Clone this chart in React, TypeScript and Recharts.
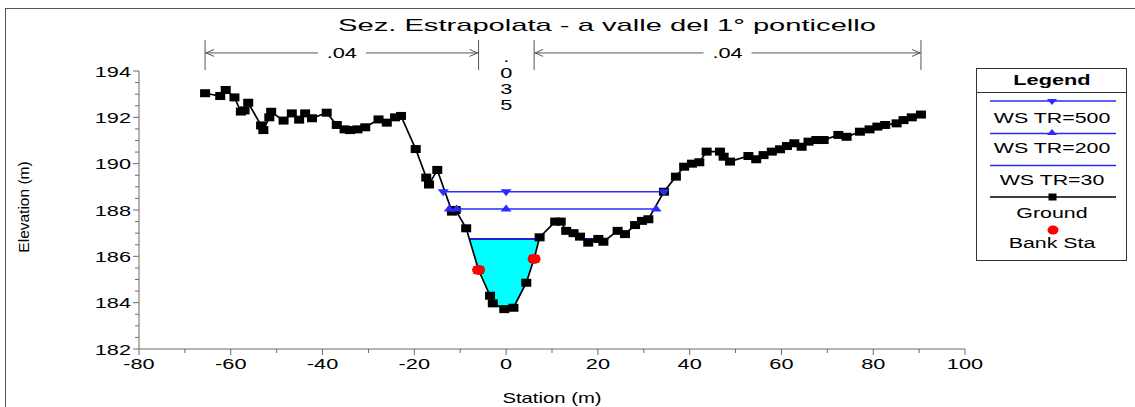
import React from 'react';
import { ComposedChart, Line, Area, XAxis, YAxis, ReferenceLine } from 'recharts';

// Cross section "Sez. Estrapolata - a valle del 1° ponticello"
const groundStation = [
  -65.6, -62.3, -61.1, -59.2, -57.8, -57.0, -56.2, -53.4, -52.9, -51.6,
  -51.2, -48.5, -46.7, -45.1, -43.8, -42.3, -39.1, -36.9, -35.2, -34.0,
  -32.4, -30.7, -27.8, -26.0, -24.2, -22.9, -19.7, -17.4, -16.8, -15.0,
  -11.8, -11.0, -8.7, -6.0, -3.5, -2.9, -0.4, 1.6, 4.4, 6.1,
  7.3, 10.7, 11.9, 13.1, 14.7, 16.1, 17.9, 20.1, 21.2, 24.3,
  25.9, 28.1, 29.6, 31.0, 34.4, 37.0, 38.8, 40.5, 42.1, 43.7,
  46.6, 47.4, 48.8, 52.8, 54.5, 56.1, 57.9, 59.7, 61.2, 62.8,
  64.4, 65.9, 67.6, 69.2, 72.4, 74.2, 77.1, 79.2, 80.9, 82.6,
  85.1, 86.6, 88.4, 90.4,
];
const groundElev = [
  193.04, 192.92, 193.18, 192.86, 192.25, 192.3, 192.63, 191.65, 191.45, 192.0,
  192.24, 191.86, 192.17, 191.9, 192.17, 191.96, 192.2, 191.67, 191.48, 191.45,
  191.48, 191.57, 191.91, 191.77, 192.0, 192.06, 190.63, 189.4, 189.1, 189.73,
  187.93, 188.0, 187.21, 185.41, 184.3, 183.97, 183.72, 183.78, 184.86, 185.89,
  186.82, 187.5, 187.5, 187.1, 187.0, 186.85, 186.59, 186.75, 186.63, 187.1,
  186.96, 187.35, 187.53, 187.6, 188.79, 189.44, 189.87, 190.0, 190.06, 190.52,
  190.52, 190.3, 190.09, 190.33, 190.19, 190.37, 190.52, 190.62, 190.76, 190.88,
  190.73, 190.95, 191.02, 191.02, 191.24, 191.16, 191.38, 191.48, 191.6, 191.67,
  191.74, 191.88, 192.0, 192.12,
];

const bankStation = [-6.0, 6.1];
const bankElev = [185.41, 185.89];

const ws500Elev = 188.79;
const ws500Station = [-13.7, 0, 34.4];
const ws200Elev = 188.04;
const ws200Station = [-12.4, -10.8, 0, 32.7];
const ws30Elev = 186.75;
const ws30Segments = [[-8.0, 7.2], [16.9, 22.3]];

// wetted part of the main channel under WS TR=30
const channelStation = [-8.0, -6.0, -3.5, -2.9, -0.4, 1.6, 4.4, 6.1, 7.2];
const channelBed = [186.75, 185.41, 184.3, 183.97, 183.72, 183.78, 184.86, 185.89, 186.75];

const manningN = ['.04', '.035', '.04'];
const manningY = 194.78;

const xMajorTicks = [-80, -60, -40, -20, 0, 20, 40, 60, 80, 100];
const xTicks = [-80, -70, -60, -50, -40, -30, -20, -10, 0, 10, 20, 30, 40, 50, 60, 70, 80, 90, 100];
const yMajorTicks = [182, 184, 186, 188, 190, 192, 194];
const yTicks = [
  182, 182.5, 183, 183.5, 184, 184.5, 185, 185.5, 186, 186.5, 187, 187.5, 188,
  188.5, 189, 189.5, 190, 190.5, 191, 191.5, 192, 192.5, 193, 193.5, 194,
];

const FONT = '"Liberation Sans", Arial, sans-serif';
const AXIS = '#6a6a6a';
const BLUE = '#2b2bff';
const SX = 1.45;

const groundData = groundStation.map((x, i) => ({ x, y: groundElev[i] }));
const bankData = bankStation.map((x, i) => ({ x, y: bankElev[i] }));
const ws500Data = ws500Station.map((x) => ({ x, y: ws500Elev }));
const ws200Data = ws200Station.map((x) => ({ x, y: ws200Elev }));
const ws30Data = ws30Segments.flatMap(([a, b]) => [
  { x: a, y: ws30Elev },
  { x: b, y: ws30Elev },
  { x: b, y: null },
]);
const channelData = channelStation.map((x, i) => ({ x, range: [channelBed[i], ws30Elev] }));

function WideText({ x, y, size, anchor = 'middle', weight = 'normal', sx = SX, children }: any) {
  return (
    <text
      transform={`translate(${x},${y}) scale(${sx},1)`}
      textAnchor={anchor}
      fontFamily={FONT}
      fontSize={size}
      fontWeight={weight}
      fill="#000"
    >
      {children}
    </text>
  );
}

const XTick = ({ x, y, payload }: any) => {
  const major = xMajorTicks.includes(payload.value);
  return (
    <g>
      <line x1={x} x2={x} y1={y} y2={y + (major ? 6 : 4)} stroke={AXIS} />
      {major && <WideText x={x} y={y + 20} size={15}>{payload.value}</WideText>}
    </g>
  );
};

const YTick = ({ x, y, payload }: any) => {
  const major = yMajorTicks.includes(payload.value);
  return (
    <g>
      <line x1={x - (major ? 6 : 4)} x2={x} y1={y} y2={y} stroke={AXIS} />
      {major && <WideText x={x - 8} y={y + 5.5} size={15} anchor="end">{payload.value}</WideText>}
    </g>
  );
};

const squareDot = (p: any) =>
  p.cy == null ? <g key={p.index} /> : (
    <rect key={p.index} x={p.cx - 5} y={p.cy - 4} width={10} height={8} fill="#000" />
  );

const bankDot = (p: any) => (
  <ellipse key={p.index} cx={p.cx} cy={p.cy} rx={6.5} ry={5} fill="#ff0000" />
);

const triDown = (p: any) => (
  <polygon
    key={p.index}
    points={`${p.cx - 5.5},${p.cy - 2.5} ${p.cx + 5.5},${p.cy - 2.5} ${p.cx},${p.cy + 4.5}`}
    fill={BLUE}
  />
);

const triUp = (p: any) => (
  <polygon
    key={p.index}
    points={`${p.cx - 5.5},${p.cy + 2.5} ${p.cx + 5.5},${p.cy + 2.5} ${p.cx},${p.cy - 4.5}`}
    fill={BLUE}
  />
);

// Manning's n bracket drawn above the plot between two stations
const bracket = (label: string) => (p: any) => {
  const { x1, x2, y1: y } = p;
  const mid = (x1 + x2) / 2;
  const gap = 24;
  return (
    <g stroke="#555" strokeWidth={1} fill="none">
      <line x1={x1} x2={x1} y1={y - 13} y2={y + 17} />
      <line x1={x2} x2={x2} y1={y - 13} y2={y + 17} />
      <line x1={x1} x2={mid - gap} y1={y} y2={y} />
      <line x1={mid + gap} x2={x2} y1={y} y2={y} />
      <polyline points={`${x1 + 9},${y - 3.5} ${x1 + 1},${y} ${x1 + 9},${y + 3.5}`} />
      <polyline points={`${x2 - 9},${y - 3.5} ${x2 - 1},${y} ${x2 - 9},${y + 3.5}`} />
      <g stroke="none">
        <WideText x={mid} y={y + 5.5} size={15}>{label}</WideText>
      </g>
    </g>
  );
};

const stackedLabel = (label: string) => (p: any) => {
  const mid = (p.x1 + p.x2) / 2;
  return (
    <g>
      {label.split('').map((c, i) => (
        <WideText key={i} x={mid} y={p.y1 + 9.5 + i * 16} size={15}>{c}</WideText>
      ))}
    </g>
  );
};

const YTitle = ({ viewBox }: any) => {
  const cx = viewBox.x - 50;
  const cy = viewBox.y + viewBox.height / 2 - 3;
  return (
    <text
      transform={`translate(${cx},${cy}) rotate(-90)`}
      textAnchor="middle"
      fontFamily={FONT}
      fontSize={15.5}
      fill="#000"
    >
      Elevation (m)
    </text>
  );
};

const XTitle = ({ viewBox }: any) => (
  <WideText x={viewBox.x + viewBox.width / 2} y={viewBox.y + 54} size={14}>Station (m)</WideText>
);

function LegendBox() {
  const lx1 = 990;
  const lx2 = 1116;
  const cx = 1052;
  return (
    <svg
      width={1135}
      height={407}
      style={{ position: 'absolute', left: 0, top: 0, pointerEvents: 'none' }}
    >
      <text
        x={607}
        y={31}
        textAnchor="middle"
        fontFamily={FONT}
        fontSize={17}
        textLength={538}
        lengthAdjust="spacingAndGlyphs"
      >
        Sez. Estrapolata - a valle del 1° ponticello
      </text>
      <rect x={976.5} y={68.5} width={150} height={192} fill="#fff" stroke="#333" />
      <line x1={976.5} x2={1126.5} y1={92.5} y2={92.5} stroke="#333" />
      <WideText x={cx} y={85} size={15} weight="bold">Legend</WideText>

      <line x1={lx1} x2={lx2} y1={101} y2={101} stroke={BLUE} strokeWidth={1.5} />
      <polygon points={`${cx - 5},${99} ${cx + 5},${99} ${cx},${105}`} fill={BLUE} />
      <WideText x={cx} y={123} size={15.5} sx={1.38}>WS TR=500</WideText>

      <line x1={lx1} x2={lx2} y1={133.5} y2={133.5} stroke={BLUE} strokeWidth={1.5} />
      <polygon points={`${cx - 5},${135} ${cx + 5},${135} ${cx},${129}`} fill={BLUE} />
      <WideText x={cx} y={153} size={15.5} sx={1.38}>WS TR=200</WideText>

      <line x1={lx1} x2={lx2} y1={165.5} y2={165.5} stroke={BLUE} strokeWidth={1.5} />
      <WideText x={cx} y={185} size={15.5} sx={1.38}>WS TR=30</WideText>

      <line x1={lx1} x2={lx2} y1={197} y2={197} stroke="#000" strokeWidth={1.5} />
      <rect x={cx - 3.5} y={193.5} width={8} height={7} fill="#000" />
      <WideText x={cx} y={218} size={15.5} sx={1.38}>Ground</WideText>

      <ellipse cx={cx + 1} cy={230} rx={5.5} ry={4.5} fill="#ff0000" />
      <WideText x={cx} y={248} size={15.5} sx={1.38}>Bank Sta</WideText>
    </svg>
  );
}

export default function App() {
  const breaks = [groundStation[0], bankStation[0], bankStation[1], groundStation[groundStation.length - 1]];
  return (
    <div
      style={{
        position: 'fixed',
        left: 0,
        top: 0,
        width: 1135,
        height: 407,
        background: '#fff',
        overflow: 'hidden',
      }}
    >
      <div
        style={{
          position: 'absolute',
          left: 5,
          top: 8,
          width: 1200,
          height: 600,
          border: '1px solid #555',
        }}
      />
      <div style={{ position: 'absolute', left: 0, top: 0 }}>
        <ComposedChart width={1135} height={407} margin={{ top: 71, right: 170, left: 79, bottom: 28 }}>
          <XAxis
            type="number"
            dataKey="x"
            domain={[-80, 100]}
            ticks={xTicks}
            interval={0}
            allowDataOverflow
            height={30}
            tickSize={0}
            tickMargin={0}
            tickLine={false}
            axisLine={{ stroke: AXIS }}
            tick={<XTick />}
            label={<XTitle />}
          />
          <YAxis
            type="number"
            domain={[182, 194]}
            ticks={yTicks}
            interval={0}
            allowDataOverflow
            width={60}
            tickSize={0}
            tickMargin={0}
            tickLine={false}
            axisLine={{ stroke: AXIS }}
            tick={<YTick />}
            label={<YTitle />}
          />
          <Area
            data={channelData}
            dataKey="range"
            type="linear"
            fill="#00ffff"
            fillOpacity={1}
            stroke="none"
            isAnimationActive={false}
          />
          <Line
            data={ws30Data}
            dataKey="y"
            type="linear"
            stroke="#1f1fd0"
            strokeWidth={2}
            dot={false}
            activeDot={false}
            isAnimationActive={false}
          />
          <Line
            data={groundData}
            dataKey="y"
            type="linear"
            stroke="#000"
            strokeWidth={1.7}
            dot={squareDot}
            activeDot={false}
            isAnimationActive={false}
          />
          <Line
            data={ws200Data}
            dataKey="y"
            type="linear"
            stroke={BLUE}
            strokeWidth={1.5}
            dot={triUp}
            activeDot={false}
            isAnimationActive={false}
          />
          <Line
            data={ws500Data}
            dataKey="y"
            type="linear"
            stroke={BLUE}
            strokeWidth={1.5}
            dot={triDown}
            activeDot={false}
            isAnimationActive={false}
          />
          <Line
            data={bankData}
            dataKey="y"
            type="linear"
            stroke="none"
            dot={bankDot}
            activeDot={false}
            isAnimationActive={false}
          />
          <ReferenceLine
            segment={[{ x: breaks[0], y: manningY }, { x: breaks[1], y: manningY }]}
            ifOverflow="visible"
            shape={bracket(manningN[0])}
          />
          <ReferenceLine
            segment={[{ x: breaks[1], y: manningY }, { x: breaks[2], y: manningY }]}
            ifOverflow="visible"
            shape={stackedLabel(manningN[1])}
          />
          <ReferenceLine
            segment={[{ x: breaks[2], y: manningY }, { x: breaks[3], y: manningY }]}
            ifOverflow="visible"
            shape={bracket(manningN[2])}
          />
        </ComposedChart>
      </div>
      <LegendBox />
    </div>
  );
}
